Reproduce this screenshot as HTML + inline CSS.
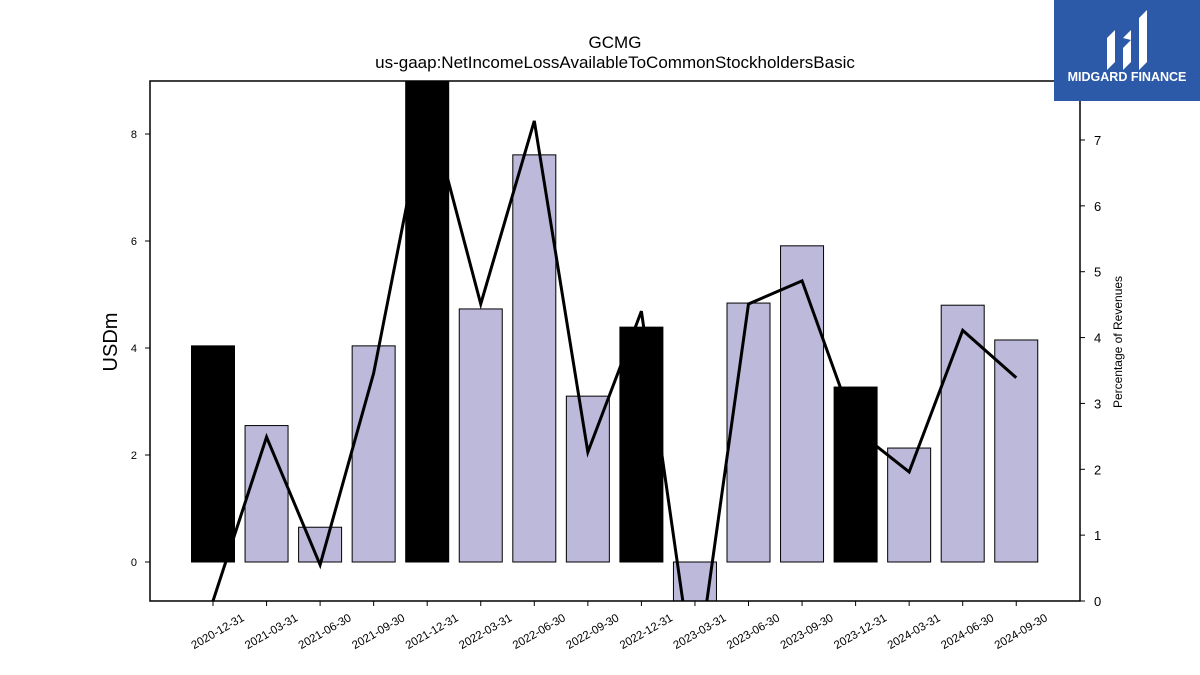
<!DOCTYPE html>
<html><head><meta charset="utf-8"><style>
body{margin:0;background:#fff;}
svg{display:block;font-family:"Liberation Sans",sans-serif;}
</style></head><body>
<svg id="chart" width="1200" height="675">
<text x="615" y="48" text-anchor="middle" font-size="17">GCMG</text>
<text x="615" y="68" text-anchor="middle" font-size="17">us-gaap:NetIncomeLossAvailableToCommonStockholdersBasic</text>
<defs><clipPath id="pc"><rect x="150" y="81" width="930" height="520"/></clipPath></defs>
<g id="bars" clip-path="url(#pc)"></g>
<g id="line" clip-path="url(#pc)"></g>
<rect x="150" y="81" width="930" height="520" fill="none" stroke="#000" stroke-width="1.5"/>
<g id="axes"></g>
<text transform="translate(117,342) rotate(-90)" text-anchor="middle" font-size="20">USDm</text>
<text transform="translate(1122,342) rotate(-90)" text-anchor="middle" font-size="12">Percentage of Revenues</text>
<g>
<rect x="1054" y="0" width="146" height="101" fill="#2c5aa9"/>
<path d="M1107 70 V38 l8 -8 V62 Z M1123 70 V48 l8 -8 V62 Z M1139 70 V18 l8 -8 V62 Z M1123 38 l8 -8 v10 Z" fill="#fff"/>
<text x="1127" y="81" text-anchor="middle" font-size="12.5" font-weight="bold" fill="#fff">MIDGARD FINANCE</text>
</g>
</svg>
<script>
const categories=["2020-12-31","2021-03-31","2021-06-30","2021-09-30","2021-12-31","2022-03-31","2022-06-30","2022-09-30","2022-12-31","2023-03-31","2023-06-30","2023-09-30","2023-12-31","2024-03-31","2024-06-30","2024-09-30"];
const netIncome=[4.04,2.55,0.65,4.04,9.6,4.73,7.61,3.10,4.39,-1.0,4.84,5.91,3.27,2.13,4.80,4.15];
const highlighted=[true,false,false,false,true,false,false,false,true,false,false,false,true,false,false,false];
const pctRevenue=[0.0,2.49,0.55,3.46,7.59,4.51,7.29,2.26,4.40,-1.29,4.51,4.86,2.6,1.96,4.11,3.39];
const leftTicks=[0,2,4,6,8];
const rightTicks=[0,1,2,3,4,5,6,7];
const NS="http://www.w3.org/2000/svg";
const X0=213,DX=53.55,BW=43;
const xs=i=>X0+i*DX;
const yL=v=>562-v*53.5;
const yR=v=>601-v*65.86;
function mk(t,a,p){const e=document.createElementNS(NS,t);for(const k in a)e.setAttribute(k,a[k]);p.appendChild(e);return e;}
const gb=document.getElementById('bars'),gl=document.getElementById('line'),ga=document.getElementById('axes');
netIncome.forEach((v,i)=>{
 const y=Math.min(yL(v),yL(0));const h=Math.abs(yL(v)-yL(0));
 const r=mk('rect',{x:xs(i)-BW/2,y:y,width:BW,height:h,fill:highlighted[i]?'#000':'#bcb9da',stroke:'#000','stroke-width':1},gb);
 
 
});
const pl=mk('polyline',{points:pctRevenue.map((v,i)=>xs(i)+','+yR(v)).join(' '),fill:'none',stroke:'#000','stroke-width':3,'stroke-linejoin':'miter'},gl);


leftTicks.forEach(t=>{
 mk('line',{x1:145,x2:150,y1:yL(t),y2:yL(t),stroke:'#000'},ga);
 const tx=mk('text',{x:137,y:yL(t)+4,'text-anchor':'end','font-size':11},ga);tx.textContent=t;
 
 
});
rightTicks.forEach(t=>{
 mk('line',{x1:1080,x2:1085,y1:yR(t),y2:yR(t),stroke:'#000'},ga);
 const tx=mk('text',{x:1094,y:yR(t)+5,'font-size':13},ga);tx.textContent=t;
 
 
});
categories.forEach((c,i)=>{
 mk('line',{x1:xs(i),x2:xs(i),y1:601,y2:606,stroke:'#000'},ga);
 const tx=mk('text',{transform:'translate('+(xs(i)+32)+',620) rotate(-30)','text-anchor':'end','font-size':11.5},ga);tx.textContent=c;
 
 
});
</script>
</body></html>
